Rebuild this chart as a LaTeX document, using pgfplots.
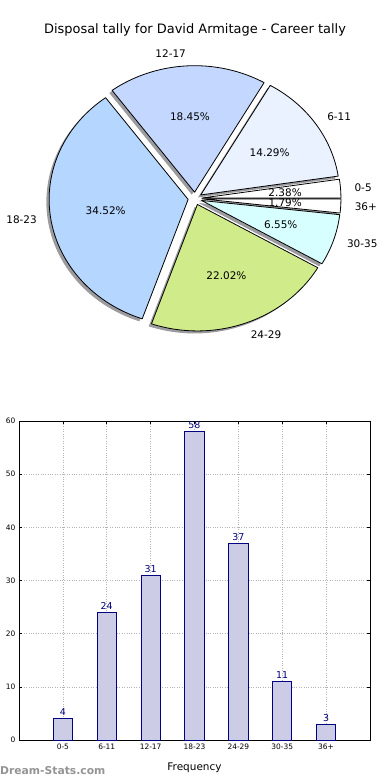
\documentclass[border=0pt]{standalone}
\usepackage{pgfplots}
\pgfplotsset{compat=1.18}
\usepackage{pgfplotstable}
\usepackage{fontspec}
\setmainfont{DejaVu Sans}

\definecolor{pie0}{RGB}{255,255,255}
\definecolor{pie1}{RGB}{234,241,255}
\definecolor{pie2}{RGB}{196,216,255}
\definecolor{pie3}{RGB}{181,214,255}
\definecolor{pie4}{RGB}{208,236,138}
\definecolor{pie5}{RGB}{216,255,255}
\definecolor{pie6}{RGB}{255,255,255}
\definecolor{shadowgray}{RGB}{156,156,160}
\definecolor{barfill}{RGB}{204,204,230}
\definecolor{baredge}{RGB}{0,0,128}
\definecolor{gridgray}{RGB}{180,180,180}

\pgfplotstableread{
lab val
0-5 4
6-11 24
12-17 31
18-23 58
24-29 37
30-35 11
36+ 3
}\tally

\begin{document}
% totals and slice geometry derived from the table
\gdef\total{0}%
\foreach \i in {0,...,6}{%
  \pgfplotstablegetelem{\i}{val}\of\tally
  \pgfmathsetmacro\tmp{\total+\pgfplotsretval}%
  \xdef\total{\tmp}%
}%
\gdef\cum{0}%
\foreach \i in {0,...,6}{%
  \pgfplotstablegetelem{\i}{val}\of\tally
  \let\v\pgfplotsretval
  \pgfmathsetmacro\s{\cum}%
  \pgfmathsetmacro\e{\cum+\v/\total*360}%
  \pgfmathsetmacro\m{(\s+\e)/2}%
  \pgfmathsetmacro\ex{0.05*cos(\m)}%
  \pgfmathsetmacro\ey{0.05*sin(\m)}%
  \pgfmathsetmacro\sx{\ex-0.02}%
  \pgfmathsetmacro\sy{\ey-0.02}%
  \pgfmathsetmacro\lx{\ex+1.1*cos(\m)}%
  \pgfmathsetmacro\ly{\ey+1.1*sin(\m)}%
  \pgfmathsetmacro\px{\ex+0.6*cos(\m)}%
  \pgfmathsetmacro\py{\ey+0.6*sin(\m)}%
  \pgfmathsetmacro\pc{\v/\total*100}%
  \expandafter\xdef\csname sa\i\endcsname{\s}%
  \expandafter\xdef\csname ea\i\endcsname{\e}%
  \expandafter\xdef\csname ex\i\endcsname{\ex}%
  \expandafter\xdef\csname ey\i\endcsname{\ey}%
  \expandafter\xdef\csname sx\i\endcsname{\sx}%
  \expandafter\xdef\csname sy\i\endcsname{\sy}%
  \expandafter\xdef\csname lx\i\endcsname{\lx}%
  \expandafter\xdef\csname ly\i\endcsname{\ly}%
  \expandafter\xdef\csname px\i\endcsname{\px}%
  \expandafter\xdef\csname py\i\endcsname{\py}%
  \expandafter\xdef\csname pc\i\endcsname{\pc}%
  \ifdim\lx pt>0pt \expandafter\xdef\csname la\i\endcsname{west}%
  \else \expandafter\xdef\csname la\i\endcsname{east}\fi
  \pgfplotstablegetelem{\i}{lab}\of\tally
  \expandafter\xdef\csname lab\i\endcsname{\pgfplotsretval}%
  \xdef\cum{\e}%
}%
\begin{tikzpicture}
\useasboundingbox (0bp,0bp) rectangle (390bp,-780bp);
% ---------------- pie ----------------
\begin{axis}[
  at={(0bp,0bp)}, anchor=north west,
  width=390bp, height=400bp, scale only axis,
  hide axis, clip=false,
  xmin=-1.4029, xmax=1.4029, ymin=-1.5929, ymax=1.5692,
]
\pgfplotsinvokeforeach{0,...,6}{
  \addplot[draw=none, fill=shadowgray, domain=\csname sa#1\endcsname:\csname ea#1\endcsname,
    samples=60, variable=\t]
    ({\csname sx#1\endcsname+cos(\t)},{\csname sy#1\endcsname+sin(\t)})
    -- (axis cs:\csname sx#1\endcsname,\csname sy#1\endcsname) -- cycle;
}
\pgfplotsinvokeforeach{0,...,6}{
  \addplot[draw=black, line width=0.8bp, line join=round, fill=pie#1,
    domain=\csname sa#1\endcsname:\csname ea#1\endcsname, samples=60, variable=\t]
    ({\csname ex#1\endcsname+cos(\t)},{\csname ey#1\endcsname+sin(\t)})
    -- (axis cs:\csname ex#1\endcsname,\csname ey#1\endcsname) -- cycle;
}
\pgfplotsinvokeforeach{0,...,6}{
  \node[anchor=\csname la#1\endcsname, inner sep=0pt, font=\fontsize{10.5}{12}\selectfont]
    at (axis cs:\csname lx#1\endcsname,\csname ly#1\endcsname) {\csname lab#1\endcsname};
  \node[inner sep=0pt, font=\fontsize{10.5}{12}\selectfont]
    at (axis cs:\csname px#1\endcsname,\csname py#1\endcsname)
    {\pgfmathprintnumber[fixed,precision=2,fixed zerofill,assume math mode=true]{\csname pc#1\endcsname}\%};
}
\node[font=\fontsize{13}{15}\selectfont, inner sep=0pt] at (axis cs:0,1.332)
  {Disposal tally for David Armitage - Career tally};
\end{axis}
% ---------------- bars ----------------
\begin{axis}[
  at={(19bp,-421bp)}, anchor=north west,
  width=351bp, height=319bp, scale only axis,
  xmin=0, xmax=8, ymin=0, ymax=60,
  ytick={0,10,...,60},
  xtick={1,...,7},
  xticklabels from table={\tally}{lab},
  ybar, bar width=0.44,
  grid=major,
  grid style={gridgray, dotted, line width=0.6bp},
  axis line style={black, line width=0.8bp},
  tick align=inside, major tick length=3bp,
  tick style={black, line width=0.5bp},
  tick label style={font=\fontsize{7.5}{9}\selectfont},
  /pgf/number format/assume math mode=true,
  xlabel={Frequency},
  xlabel style={font=\fontsize{10.5}{12}\selectfont, yshift=-7bp},
  nodes near coords,
  every node near coord/.append style={text=baredge, font=\fontsize{9.5}{11}\selectfont, inner sep=2.5bp},
]
\addplot[fill=barfill, draw=baredge, line width=0.8bp]
  table[x expr=\coordindex+1, y=val] {\tally};
\end{axis}
\node[anchor=base west, inner sep=0pt, text=black!42, font=\bfseries\fontsize{10.8}{12}\selectfont]
  at (0bp,-774bp) {Dream-Stats.com};
\end{tikzpicture}
\end{document}
